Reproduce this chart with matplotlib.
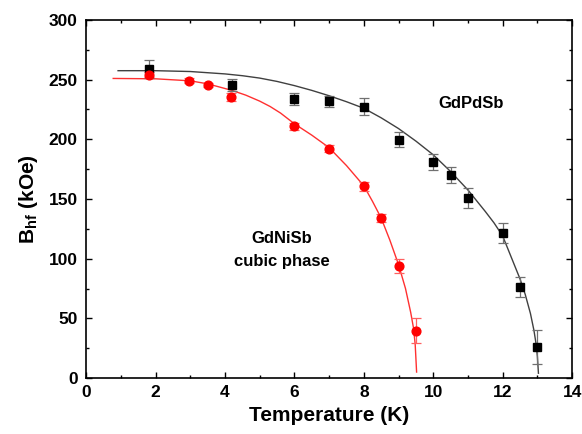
import matplotlib
matplotlib.use('Agg')
import matplotlib.pyplot as plt
import matplotlib.ticker as tik

plt.rcParams['font.family'] = ['Liberation Sans', 'DejaVu Sans']
plt.rcParams['font.weight'] = 'bold'
plt.rcParams['mathtext.fontset'] = 'custom'
plt.rcParams['mathtext.rm'] = 'Liberation Sans:bold'
plt.rcParams['mathtext.bf'] = 'Liberation Sans:bold'

# GdPdSb data (black squares)
pd_T = [1.8, 4.2, 6, 7, 8, 9, 10, 10.5, 11, 12, 12.5, 13]
pd_B = [259, 245.6, 234, 232, 227.4, 199.5, 181, 170, 151, 121.5, 76, 26]
pd_err = [7.5, 5, 4.9, 4.7, 7, 6.3, 6.3, 6.7, 8.4, 8.7, 8.4, 14]

# GdNiSb cubic phase data (red circles)
ni_T = [1.8, 2.97, 3.5, 4.18, 6, 7, 8, 8.5, 9, 9.5]
ni_B = [254, 249, 245.6, 235.5, 211, 192, 160.5, 134, 94, 39.5]
ni_err = [2, 2, 2, 3, 3, 3, 4, 3.6, 6, 10.5]

# fitted curves
pd_fit_T = [0.92, 2, 3, 4, 4.5, 5, 5.5, 6, 6.5, 7, 7.5, 8, 8.5, 9, 9.5, 10,
            10.5, 11, 11.5, 11.75, 12, 12.25, 12.5, 12.65, 12.8, 12.9, 12.96,
            13.0, 13.03]
pd_fit_B = [257.5, 257.5, 256.8, 254.8, 253.3, 251.3, 248.5, 245, 241, 236.5,
            231.5, 226, 218, 209, 198.5, 187, 173, 157.5, 139.5, 130, 119, 101,
            83, 70, 54, 40, 29, 18, 4]
ni_fit_T = [0.78, 2, 3, 3.5, 4.2, 4.6, 5, 5.3, 5.6, 6, 6.5, 7, 7.5, 8, 8.25,
            8.5, 8.75, 9, 9.2, 9.35, 9.43, 9.48, 9.52]
ni_fit_B = [251, 250.7, 249, 246.5, 241, 237, 232, 227.5, 222, 213, 203.5, 193,
            178, 161, 148, 134, 115.5, 95, 75, 55, 42, 28, 5]

fig = plt.figure(figsize=(5.82, 4.34), dpi=100)
ax = fig.add_axes([0.148, 0.129, 0.835, 0.825])

ax.plot(pd_fit_T, pd_fit_B, color='#404040', lw=1.0, zorder=2)
ax.plot(ni_fit_T, ni_fit_B, color='#ff3030', lw=1.0, zorder=2)

ax.errorbar(pd_T, pd_B, yerr=pd_err, fmt='s', color='black', ms=5.5,
            ecolor='#707070', elinewidth=0.9, capsize=3.5, capthick=0.9, zorder=3)
ax.errorbar(ni_T, ni_B, yerr=ni_err, fmt='o', color='#ff0000', ms=6.3,
            ecolor='#ff6060', elinewidth=0.9, capsize=3.5, capthick=0.9, zorder=3)

ax.text(11.1, 230, 'GdPdSb', fontsize=12, fontweight='bold', ha='center', va='center')
ax.text(5.64, 117, 'GdNiSb', fontsize=12, fontweight='bold', ha='center', va='center')
ax.text(5.64, 97.5, 'cubic phase', fontsize=12, fontweight='bold', ha='center', va='center')

ax.set_xlim(0, 14)
ax.set_ylim(0, 300)
ax.xaxis.set_major_locator(tik.MultipleLocator(2))
ax.xaxis.set_minor_locator(tik.MultipleLocator(1))
ax.yaxis.set_major_locator(tik.MultipleLocator(50))
ax.yaxis.set_minor_locator(tik.MultipleLocator(25))
ax.tick_params(which='both', direction='in', top=True, right=True, width=1.0)
ax.tick_params(which='major', length=4.5, labelsize=12.5)
ax.tick_params(which='minor', length=2.5)
ax.tick_params(axis='x', pad=5)
ax.tick_params(axis='y', pad=6)
for s in ax.spines.values():
    s.set_linewidth(1.2)

ax.set_xlabel('Temperature (K)', fontsize=15, fontweight='bold', labelpad=4)
ax.set_ylabel(r'B$_{\mathrm{hf}}$ (kOe)', fontsize=15, fontweight='bold', labelpad=6)

fig.savefig('out.png', dpi=100)
